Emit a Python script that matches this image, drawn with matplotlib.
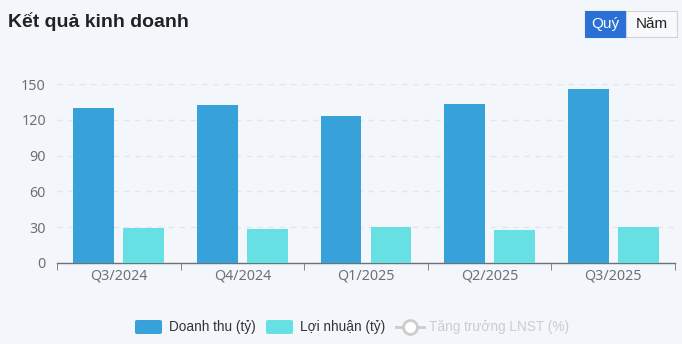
import matplotlib
matplotlib.use("Agg")
import matplotlib.pyplot as plt
from matplotlib.patches import FancyBboxPatch
from matplotlib.lines import Line2D
import numpy as np

quarters = ["Q3/2024", "Q4/2024", "Q1/2025", "Q2/2025", "Q3/2025"]
doanh_thu = [129.5, 132.3, 123.2, 133.0, 145.5]
loi_nhuan = [29.0, 28.5, 30.4, 27.8, 30.4]
yticks = [0, 30, 60, 90, 120, 150]

bg = "#f3f7fb"
blue = "#37a2da"
cyan = "#67e0e3"
axis_gray = "#6e7079"

W, H = 682, 344
fig = plt.figure(figsize=(W / 100, H / 100), dpi=100, facecolor=bg)

# plot area in pixel coordinates
x0, x1, ytop, ybot = 57, 675, 84, 263
ax = fig.add_axes([x0 / W, 1 - ybot / H, (x1 - x0) / W, (ybot - ytop) / H])
ax.set_facecolor(bg)

x = np.arange(len(quarters))
bw = 0.33
gap = 0.075
ax.bar(x - (bw + gap) / 2, doanh_thu, bw, color=blue, zorder=3)
ax.bar(x + (bw + gap) / 2, loi_nhuan, bw, color=cyan, zorder=3)

ax.set_xlim(-0.5, len(quarters) - 0.5)
ax.set_ylim(0, 150)
ax.set_yticks(yticks)
ax.yaxis.grid(True, linestyle=(0, (4, 4)), color="#e0e6f1", linewidth=1, zorder=0)
for s in ["top", "right", "left"]:
    ax.spines[s].set_visible(False)
ax.spines["bottom"].set_color(axis_gray)
ax.spines["bottom"].set_linewidth(1)

ax.set_xticks(x)
ax.set_xticklabels(quarters, fontsize=10.3, color=axis_gray, family="Noto Sans")
ax.tick_params(axis="x", length=0, pad=4)
ax.set_xticks(np.arange(len(quarters) + 1) - 0.5, minor=True)
ax.tick_params(axis="x", which="minor", length=5, color=axis_gray, direction="out")
ax.tick_params(axis="y", length=0, pad=8, labelsize=10.3, labelcolor=axis_gray)
for lbl in ax.get_yticklabels():
    lbl.set_family("Noto Sans")

# title
fig.text(8 / W, 1 - 22 / H, "Kết quả kinh doanh", fontsize=14, fontweight="bold",
         color="#222222", family="Liberation Sans", va="center", ha="left")

# toggle buttons
fig.patches.append(FancyBboxPatch((585 / W, 1 - 37 / H), 41 / W, 26 / H,
                                  boxstyle="square,pad=0", transform=fig.transFigure,
                                  facecolor="#2b70d4", edgecolor="#2b70d4", lw=0.8))
fig.patches.append(FancyBboxPatch((626 / W, 1 - 37 / H), 51 / W, 26 / H,
                                  boxstyle="square,pad=0", transform=fig.transFigure,
                                  facecolor="#f8f9fa", edgecolor="#cfd4da", lw=0.8))
fig.text(605.5 / W, 1 - 24 / H, "Quý", fontsize=11, color="white",
         family="Liberation Sans", ha="center", va="center")
fig.text(651.5 / W, 1 - 24 / H, "Năm", fontsize=11, color="#222222",
         family="Liberation Sans", ha="center", va="center")

# legend
ly = 1 - 327 / H
for px, col, txt in [(135, blue, "Doanh thu (tỷ)"), (266, cyan, "Lợi nhuận (tỷ)")]:
    fig.patches.append(FancyBboxPatch((px / W, ly - 7 / H), 27 / W, 14 / H,
                                      boxstyle="round,pad=0,rounding_size=0.004",
                                      transform=fig.transFigure, facecolor=col, edgecolor="none"))
    fig.text((px + 34) / W, ly, txt, fontsize=9.8, color="#333333",
             family="Liberation Sans", ha="left", va="center")
fig.lines.append(Line2D([396 / W, 424 / W], [ly, ly], transform=fig.transFigure,
                        color="#cccccc", lw=2))
fig.lines.append(Line2D([410 / W], [ly], transform=fig.transFigure, marker="o",
                        markersize=10, markerfacecolor="white", markeredgecolor="#cccccc",
                        markeredgewidth=2))
fig.text(429 / W, ly, "Tăng trưởng LNST (%)", fontsize=9.8, color="#cccccc",
         family="Liberation Sans", ha="left", va="center")

fig.savefig("out.png", dpi=100, facecolor=bg)
